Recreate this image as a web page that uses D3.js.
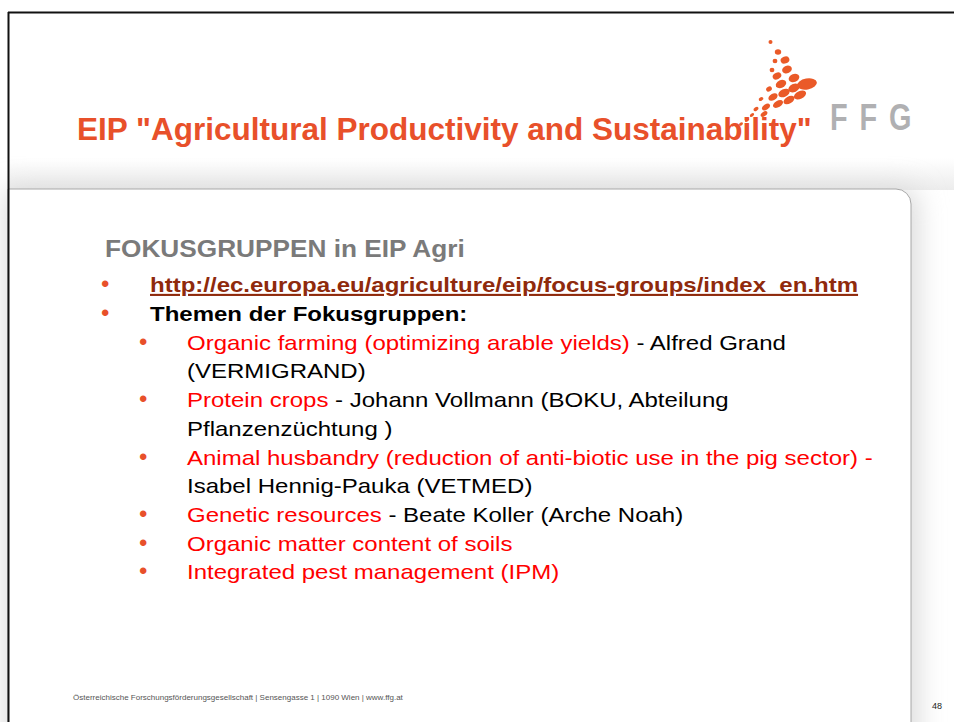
<!DOCTYPE html>
<html>
<head>
<meta charset="utf-8">
<script src="https://cdn.jsdelivr.net/npm/d3@7"></script>
<style>
  body { margin: 0; background: #fff; }
  svg { display: block; font-family: "Liberation Sans", Arial, sans-serif; }
</style>
</head>
<body>
<div id="slide"></div>
<script>
const titleText = 'EIP "Agricultural Productivity and Sustainability"';
const headingText = 'FOKUSGRUPPEN in EIP Agri';
const linkText = 'http://ec.europa.eu/agriculture/eip/focus-groups/index_en.htm';
const themenText = 'Themen der Fokusgruppen:';
// each topic: red part, black part, continuation line
const topicRed = [
    'Organic farming (optimizing arable yields)',
    'Protein crops',
    'Animal husbandry (reduction of anti-biotic use in the pig sector) -',
    'Genetic resources',
    'Organic matter content of soils',
    'Integrated pest management (IPM)'
];
const topicBlack = [
    ' - Alfred Grand',
    ' - Johann Vollmann (BOKU, Abteilung',
    '',
    ' - Beate Koller (Arche Noah)',
    '',
    ''
];
const topicCont = [
    '(VERMIGRAND)',
    'Pflanzenzüchtung )',
    'Isabel Hennig-Pauka (VETMED)',
    '',
    '',
    ''
];
const footerText = 'Österreichische Forschungsförderungsgesellschaft | Sensengasse 1 | 1090 Wien | www.ffg.at';
const pageNo = '48';
const logoLetters = ['F', 'F', 'G'];

// logo dots [x, y, rx, ry, rotation]
const logoDots = [
    [770.5, 42, 2, 2, 0], [778, 52, 3.2, 2.8, 0], [775, 61, 2.4, 2.2, 0],
    [785, 60, 4.5, 3.5, -20], [772, 70, 2.4, 2.2, 0], [787, 69.5, 5, 3.8, -20],
    [777, 76, 4.5, 3.2, -25], [794, 78, 5.5, 4, -20], [781, 84, 5.5, 3.8, -25],
    [807, 84, 10, 5.5, -10], [794, 88, 6, 4, -25], [769, 89, 3, 2.4, -30],
    [784, 93, 6, 3.8, -25], [800, 95, 6.5, 3.8, -25], [773, 97, 5, 3.2, -30],
    [789, 100, 6, 3.6, -30], [761, 99, 2.4, 1.8, -30], [778, 104, 5.5, 3.2, -30],
    [766, 107, 4.5, 2.6, -35], [756, 109, 2.8, 1.8, -35], [764, 114, 3.8, 2.2, -35],
    [752, 115, 2.4, 1.5, -35], [747, 120, 2.4, 1.5, -35], [741, 124, 2.2, 1.4, -35],
    [733, 125, 1.8, 1.2, -35]
];

const width = 954, height = 722;
const orange = '#e8502a';

const svg = d3.select('#slide')
    .append('svg')
    .attr('width', width)
    .attr('height', height);

const defs = svg.append('defs');
const hg = defs.append('linearGradient')
    .attr('id', 'hdr').attr('x1', 0).attr('y1', 0).attr('x2', 0).attr('y2', 1);
hg.append('stop').attr('offset', '0%').attr('stop-color', '#fff');
hg.append('stop').attr('offset', '100%').attr('stop-color', '#ececec');
defs.append('filter').attr('id', 'blur')
    .attr('x', '-10%').attr('y', '-10%').attr('width', '120%').attr('height', '120%')
    .append('feGaussianBlur').attr('stdDeviation', 14);

// header shading + panel shadow
svg.append('rect').attr('x', 8).attr('y', 158).attr('width', width).attr('height', 32)
    .attr('fill', 'url(#hdr)');
svg.append('path')
    .attr('d', 'M 0,189 H 896 A 15 15 0 0 1 911 204 V 760 H 0 Z')
    .attr('fill', '#d8d8d8')
    .attr('transform', 'translate(6,0)')
    .attr('filter', 'url(#blur)');
svg.append('path')
    .attr('d', 'M 8,189 H 896 A 15 15 0 0 1 911 204 V 730 H 8 Z')
    .attr('fill', '#fff')
    .attr('stroke', '#a8a8a8')
    .attr('stroke-width', 1);

// slide border (top / left)
svg.append('line').attr('x1', 8).attr('y1', 12.5).attr('x2', width).attr('y2', 12.5)
    .attr('stroke', '#111').attr('stroke-width', 2);
svg.append('line').attr('x1', 8.5).attr('y1', 12).attr('x2', 8.5).attr('y2', height)
    .attr('stroke', '#111').attr('stroke-width', 2);

// text drawn with a horizontal stretch, like the original slide
const stretched = (parent, x, y, sx) => parent.append('g')
    .attr('transform', `translate(${x},${y}) scale(${sx},1)`)
    .append('text');

// logo
svg.append('g').selectAll('ellipse')
    .data(logoDots)
    .enter()
    .append('ellipse')
        .attr('cx', d => d[0])
        .attr('cy', d => d[1])
        .attr('rx', d => d[2])
        .attr('ry', d => d[3])
        .attr('transform', d => `rotate(${d[4]},${d[0]},${d[1]})`)
        .attr('fill', '#ea5a28');

const ffgX = d3.scalePoint().domain(d3.range(logoLetters.length)).range([830, 889]);
logoLetters.forEach((l, i) => {
    stretched(svg, ffgX(i), 130, 0.78)
        .attr('font-size', 37).attr('font-weight', 'bold')
        .attr('fill', '#b0b0b2')
        .text(l);
});

// title
svg.append('text')
    .attr('x', 77).attr('y', 140)
    .attr('font-size', 31.5).attr('font-weight', 'bold')
    .attr('fill', orange)
    .text(titleText);

// heading
stretched(svg, 105, 257, 1.14)
    .attr('font-size', 23).attr('font-weight', 'bold')
    .attr('fill', '#7a7a7a')
    .text(headingText);

// build body lines
const lineH = 28.7;
const lines = [];
lines.push({ level: 1, bullet: true, parts: [{ t: linkText, c: '#8f2a0c', link: true }], bold: true });
lines.push({ level: 1, bullet: true, parts: [{ t: themenText, c: '#000' }], bold: true });
topicRed.forEach((r, i) => {
    const parts = [{ t: r, c: '#ff0000' }];
    if (topicBlack[i]) parts.push({ t: topicBlack[i], c: '#000' });
    lines.push({ level: 2, bullet: true, parts: parts });
    if (topicCont[i]) lines.push({ level: 2, bullet: false, parts: [{ t: topicCont[i], c: '#000' }] });
});

const y0 = 292;
const textX = { 1: 150, 2: 187 };
const bulletX = { 1: 101, 2: 139 };
const sx = 1.143;

const body = svg.append('g');
lines.forEach((ln, i) => {
    const y = y0 + i * lineH + (ln.level === 2 ? 0.3 : 0);
    if (ln.bullet) {
        body.append('text')
            .attr('x', bulletX[ln.level]).attr('y', y)
            .attr('font-size', 24)
            .attr('fill', orange)
            .text('\u2022');
    }
    const t = stretched(body, textX[ln.level], y, sx)
        .attr('font-size', 21)
        .attr('font-weight', ln.bold ? 'bold' : 'normal');
    ln.parts.forEach(p => {
        t.append('tspan')
            .attr('fill', p.c)
            .attr('text-decoration', p.link ? 'underline' : null)
            .style('white-space', 'pre')
            .text(p.t);
    });
});

// footer
svg.append('text')
    .attr('x', 73).attr('y', 700)
    .attr('font-size', 8)
    .attr('fill', '#555')
    .text(footerText);
svg.append('text')
    .attr('x', 932).attr('y', 709)
    .attr('font-size', 9)
    .attr('fill', '#222')
    .text(pageNo);
</script>
</body>
</html>
